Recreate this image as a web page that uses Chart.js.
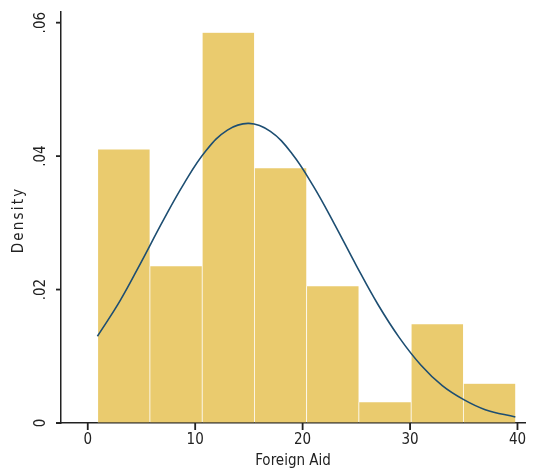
<!DOCTYPE html>
<html>
<head>
<meta charset="utf-8">
<script src="https://cdn.jsdelivr.net/npm/chart.js@4"></script>
<style>
  html, body { margin: 0; padding: 0; background: #fff; }
  #wrap { width: 539px; height: 475px; }
</style>
</head>
<body>
<div id="wrap"><canvas id="chart" width="539" height="475"></canvas></div>
<script>
// histogram bins (centres) and density per bin
const binCenters = [3.33, 8.19, 13.06, 17.92, 22.78, 27.64, 32.51, 37.37];
const densities  = [0.0410, 0.0235, 0.0585, 0.0382, 0.0205, 0.0031, 0.0148, 0.0059];

// normal density overlay
const curveX = [0.9, 3, 5, 7, 9, 11, 13, 15, 17, 19, 21, 23, 25, 27, 29, 31, 33, 35, 37, 39.8];
const curveY = [0.0130, 0.0183, 0.0242, 0.0303, 0.0360, 0.0408, 0.0439, 0.0449, 0.0437, 0.0404,
                0.0355, 0.0297, 0.0236, 0.0178, 0.0128, 0.0087, 0.0056, 0.0035, 0.0020, 0.0009];

const xTicks = [0, 10, 20, 30, 40];
const yTicks = [0, 0.02, 0.04, 0.06];
const yTickLabels = ['0', '.02', '.04', '.06'];

const FONT = "'Liberation Sans Narrow', 'DejaVu Sans Condensed', 'Arial Narrow', sans-serif";
const INK = '#222';

// stata-ish axis bits: rotated y labels, spaced y title, tick marks
const axisDecor = {
  id: 'axisDecor',
  afterDraw(chart) {
    const ctx = chart.ctx;
    const x = chart.scales.x;
    const y = chart.scales.y;
    const left = x.left;
    const bottom = y.bottom;
    ctx.save();
    ctx.fillStyle = INK;
    xTicks.forEach(v => {
      const px = x.getPixelForValue(v);
      ctx.fillRect(px - 0.9, bottom, 1.8, 7);
    });
    yTicks.forEach(v => {
      const py = y.getPixelForValue(v);
      ctx.fillRect(left - 5, py - 0.9, 5, 1.8);
    });
    // x axis line runs a little past the y axis, like the original
    ctx.fillRect(left - 5, bottom - 0.75, 5, 1.5);

    ctx.font = '15px ' + FONT;
    ctx.textAlign = 'center';
    ctx.textBaseline = 'middle';
    yTicks.forEach((v, i) => {
      const py = y.getPixelForValue(v);
      ctx.save();
      ctx.translate(41, py);
      ctx.rotate(-Math.PI / 2);
      ctx.fillText(yTickLabels[i], 0, 0);
      ctx.restore();
    });

    ctx.save();
    ctx.translate(19, 220);
    ctx.rotate(-Math.PI / 2);
    ctx.letterSpacing = '2.2px';
    ctx.fillText('Density', 0, 0);
    ctx.restore();
    ctx.restore();
  }
};

new Chart(document.getElementById('chart'), {
  type: 'bar',
  data: {
    datasets: [
      {
        type: 'line',
        data: curveX.map((x, i) => ({ x: x, y: curveY[i] })),
        borderColor: '#1d4e72',
        borderWidth: 1.6,
        pointRadius: 0,
        tension: 0.4,
        fill: false,
        order: 0
      },
      {
        type: 'bar',
        data: binCenters.map((x, i) => ({ x: x, y: densities[i] })),
        backgroundColor: '#eacb6e',
        borderColor: 'rgba(255,255,255,0.45)',
        borderWidth: { left: 1, right: 0, top: 0, bottom: 0 },
        borderSkipped: false,
        barPercentage: 1,
        categoryPercentage: 1,
        order: 1
      }
    ]
  },
  options: {
    responsive: false,
    animation: false,
    layout: { padding: { top: 8, right: 14, left: 0, bottom: 0 } },
    plugins: {
      legend: { display: false },
      tooltip: { enabled: false }
    },
    scales: {
      x: {
        type: 'linear',
        offset: false,
        min: -2.49,
        max: 40.7,
        afterBuildTicks(scale) { scale.ticks = xTicks.map(v => ({ value: v })); },
        afterFit(scale) { scale.height = 52; },
        grid: { offset: false, drawOnChartArea: false, drawTicks: true, tickLength: 6, tickColor: INK },
        border: { display: true, color: INK, width: 1.5 },
        ticks: { color: INK, font: { family: FONT, size: 15 }, padding: 2, maxRotation: 0 },
        title: { display: true, text: 'Foreign Aid', color: INK, font: { family: FONT, size: 15 }, padding: { top: 0, bottom: 5 } }
      },
      y: {
        min: 0,
        max: 0.0616,
        afterBuildTicks(scale) { scale.ticks = yTicks.map(v => ({ value: v })); },
        afterFit(scale) { scale.width = 61; },
        grid: { drawOnChartArea: false, drawTicks: true, tickLength: 4, tickColor: INK },
        border: { display: true, color: INK, width: 1.5 },
        ticks: { color: 'rgba(0,0,0,0)', font: { family: FONT, size: 15 } },
        title: { display: false }
      }
    }
  },
  plugins: [axisDecor]
});
</script>
</body>
</html>
